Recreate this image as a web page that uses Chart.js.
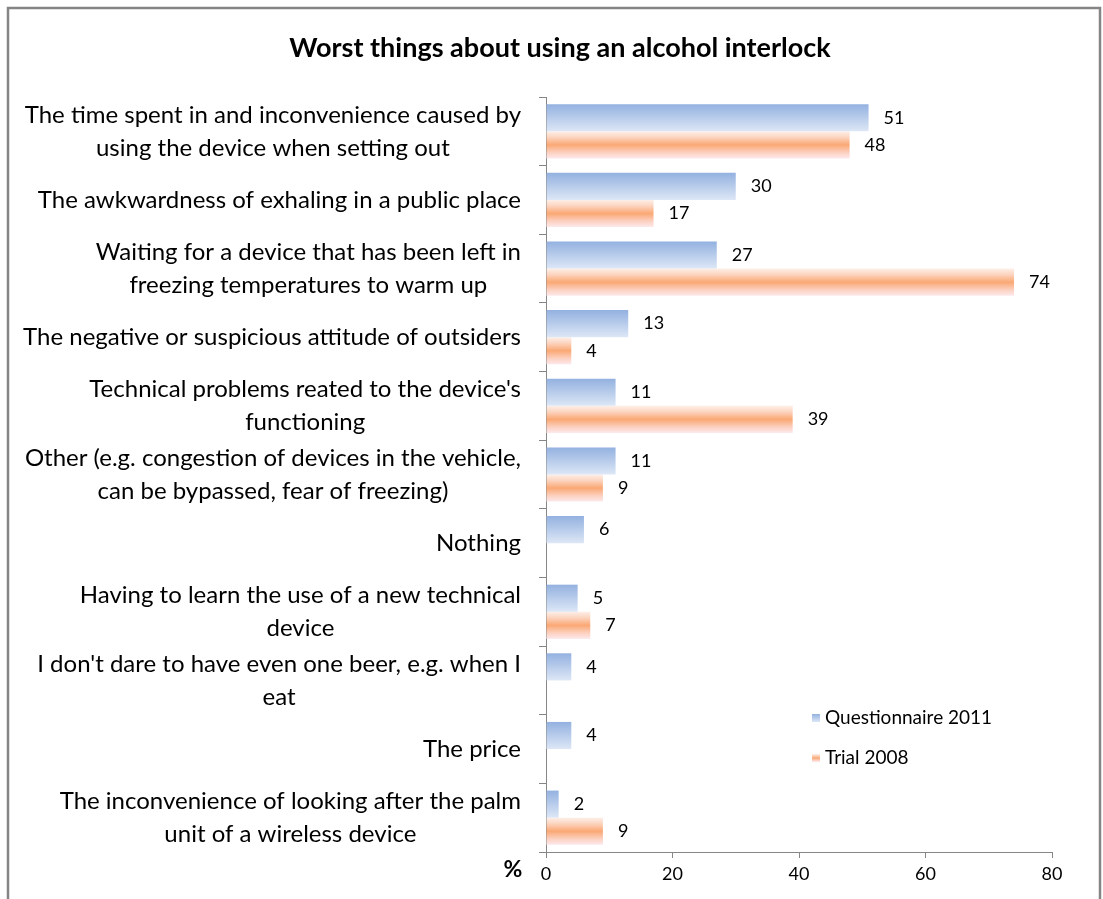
<!DOCTYPE html>
<html lang="en-US">

<head>
	<meta charset="utf-8">
	<title>Worst things about using an alcohol interlock</title>
	<script src="https://cdn.jsdelivr.net/npm/chart.js@4.4.1/dist/chart.umd.min.js"></script>
	<style>
		body {
			margin: 0;
			background: #fff;
		}
		canvas {
			display: block;
		}
	</style>
</head>

<body>
	<canvas id="chart" width="1103" height="899"></canvas>
	<script>
		const TITLE = 'Worst things about using an alcohol interlock';

		const categories = [
			['The time spent in and inconvenience caused by', 'using the device when setting out'],
			['The awkwardness of exhaling in a public place'],
			['Waiting for a device that has been left in', 'freezing temperatures to warm up'],
			['The negative or suspicious attitude of outsiders'],
			["Technical problems reated to the device's", 'functioning'],
			['Other (e.g. congestion of devices in the vehicle,', 'can be bypassed, fear of freezing)'],
			['Nothing'],
			['Having to learn the use of a new technical', 'device'],
			["I don't dare to have even one beer, e.g. when I", 'eat'],
			['The price'],
			['The inconvenience of looking after the palm', 'unit of a wireless device'],
		];

		const seriesNames = ['Questionnaire 2011', 'Trial 2008'];
		const questionnaire2011 = [51, 30, 27, 13, 11, 11, 6, 5, 4, 4, 2];
		const trial2008 = [48, 17, 74, 4, 39, 9, null, 7, null, null, 9];

		const xTicks = [0, 20, 40, 60, 80];

		const FONT = 'Lato, "Open Sans", sans-serif';
		const CAT_PCT = 0.79;

		// vertical gradient stops, top to bottom
		const BLUE_STOPS = [[0, '#93b1e0'], [1, '#dde7f6']];
		const ORANGE_STOPS = [[0, '#fdefe8'], [0.22, '#fcd4bf'], [0.5, '#faa874'], [0.78, '#fcd0bf'], [1, '#fde9ec']];

		function gradient(ctx, top, h, stops) {
			const g = ctx.createLinearGradient(0, top, 0, top + h);
			stops.forEach(s => g.addColorStop(s[0], s[1]));
			return g;
		}

		function barFill(context) {
			const chart = context.chart;
			const ys = chart.scales.y;
			const stops = context.datasetIndex === 0 ? BLUE_STOPS : ORANGE_STOPS;
			if (!ys || !chart.chartArea || context.dataIndex === undefined) {
				return stops[Math.floor(stops.length / 2)][1];
			}
			const band = ys.height / categories.length * CAT_PCT;
			const c = ys.getPixelForValue(context.dataIndex);
			const top = context.datasetIndex === 0 ? c - band / 2 : c;
			return gradient(chart.ctx, top, band / 2, stops);
		}

		// frame, title, category labels, value labels, legend and "%"
		const decorations = {
			id: 'decorations',
			beforeDraw(chart) {
				const ctx = chart.ctx;
				ctx.save();
				ctx.strokeStyle = '#858585';
				ctx.lineWidth = 2.5;
				ctx.strokeRect(8, 8, 1092, 900);
				ctx.restore();
			},
			afterDraw(chart) {
				const ctx = chart.ctx;
				const ys = chart.scales.y;
				ctx.save();
				ctx.fillStyle = '#000';
				ctx.textBaseline = 'middle';

				ctx.font = 'bold 27px ' + FONT;
				ctx.textAlign = 'center';
				ctx.fillText(TITLE, 560, 48);

				// wrapped category labels: right-aligned block, centered lines
				ctx.font = '24px ' + FONT;
				const lineH = 33;
				categories.forEach((lines, i) => {
					const w = Math.max(...lines.map(l => ctx.measureText(l).width));
					const cx = 521 - w / 2;
					const cy = ys.getPixelForValue(i);
					lines.forEach((l, k) => {
						ctx.fillText(l, cx, cy + (k - (lines.length - 1) / 2) * lineH);
					});
				});

				// values at the end of each bar
				ctx.font = '18px ' + FONT;
				ctx.textAlign = 'left';
				chart.data.datasets.forEach((ds, di) => {
					const meta = chart.getDatasetMeta(di);
					meta.data.forEach((el, i) => {
						if (ds.data[i] === null) return;
						ctx.fillText(ds.data[i], el.x + 15, el.y);
					});
				});

				// legend inside the plot
				const legendY = [718, 758];
				ctx.font = '19px ' + FONT;
				seriesNames.forEach((name, i) => {
					const stops = i === 0 ? BLUE_STOPS : ORANGE_STOPS;
					ctx.fillStyle = gradient(ctx, legendY[i] - 4, 8, stops);
					ctx.fillRect(812, legendY[i] - 4, 8, 8);
					ctx.fillStyle = '#000';
					ctx.fillText(name, 825, legendY[i]);
				});

				ctx.font = 'bold 23px ' + FONT;
				ctx.textAlign = 'center';
				ctx.fillText('%', 513, 870);
				ctx.restore();
			}
		};

		var config = {
			type: 'bar',
			data: {
				labels: categories,
				datasets: [{
					label: seriesNames[0],
					data: questionnaire2011,
					backgroundColor: barFill,
				}, {
					label: seriesNames[1],
					data: trial2008,
					backgroundColor: barFill,
				}]
			},
			options: {
				indexAxis: 'y',
				responsive: false,
				animation: false,
				categoryPercentage: CAT_PCT,
				barPercentage: 1,
				layout: {
					padding: { left: 0, right: 51, top: 97, bottom: 0 }
				},
				scales: {
					x: {
						min: 0,
						max: 80,
						afterBuildTicks(scale) {
							scale.ticks = xTicks.map(v => ({ value: v }));
						},
						afterFit(scale) {
							scale.height = 899 - 852;
						},
						grid: {
							drawOnChartArea: false,
							drawTicks: true,
							tickLength: 6,
							color: '#868686',
						},
						border: { color: '#868686', width: 1 },
						ticks: {
							color: '#000',
							padding: 5,
							font: { family: FONT, size: 18 },
						},
					},
					y: {
						afterFit(scale) {
							scale.width = 546;
						},
						grid: {
							offset: true,
							drawOnChartArea: false,
							drawTicks: true,
							tickLength: 7,
							color: '#868686',
						},
						border: { color: '#868686', width: 1 },
						ticks: { display: false },
					},
				},
				plugins: {
					legend: { display: false },
					title: { display: false },
					tooltip: { enabled: false },
				}
			},
			plugins: [decorations]
		};

		window.onload = function () {
			var ctx = document.getElementById('chart').getContext('2d');
			window.myChart = new Chart(ctx, config);
		};
	</script>
</body>

</html>
